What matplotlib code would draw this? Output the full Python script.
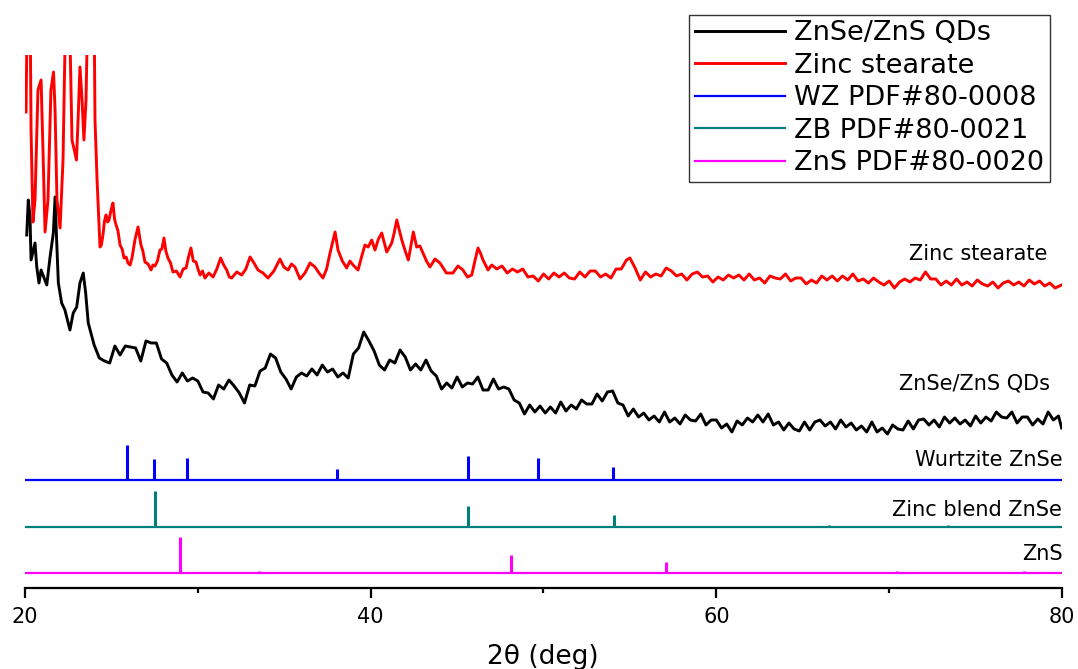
import matplotlib
matplotlib.use("Agg")
import matplotlib.pyplot as plt
from matplotlib.ticker import FixedLocator

# ---------------- data ----------------
# Zinc stearate XRD pattern (2theta in deg, intensity a.u.)
stearate_2theta = [20.06, 20.14, 20.29, 20.35, 20.46, 20.58, 20.75, 20.93, 21.04, 21.16,
                   21.33, 21.50, 21.65, 21.74, 21.85, 22.03, 22.20, 22.37, 22.55, 22.72,
                   22.98, 23.07, 23.18, 23.30, 23.41, 23.53, 23.65, 23.99, 24.05, 24.17,
                   24.34, 24.42, 24.51, 24.60, 24.69, 24.78, 24.86, 24.98, 25.09, 25.18,
                   25.27, 25.38, 25.50, 25.62, 25.73, 25.85, 25.96, 26.08, 26.19, 26.36,
                   26.54, 26.71, 26.82, 26.94, 27.12, 27.29, 27.40, 27.52, 27.66, 27.81,
                   27.92, 28.04, 28.15, 28.27, 28.42, 28.56, 28.76, 28.97, 29.15, 29.32,
                   29.46, 29.60, 29.74, 29.89, 30.01, 30.13, 30.27, 30.41, 30.64, 30.88,
                   31.10, 31.32, 31.50, 31.67, 31.82, 31.96, 32.25, 32.54, 32.78, 33.02,
                   33.25, 33.48, 33.77, 34.06, 34.40, 34.75, 34.98, 35.22, 35.42, 35.62,
                   35.91, 36.20, 36.49, 36.78, 37.01, 37.24, 37.45, 37.65, 37.94, 38.11,
                   38.36, 38.61, 38.80, 38.98, 39.27, 39.47, 39.67, 39.86, 40.06, 40.25,
                   40.45, 40.64, 40.93, 41.22, 41.36, 41.51, 41.80, 42.00, 42.18, 42.47,
                   42.66, 42.85, 43.03, 43.23, 43.43, 43.72, 44.01, 44.38, 44.76, 45.05,
                   45.34, 45.60, 45.85, 46.03, 46.21, 46.35, 46.50, 46.79,
                   47.0, 47.3, 47.6, 47.9, 48.2, 48.5, 48.8, 49.1, 49.4, 49.7,
                   50.0, 50.3, 50.6, 50.9, 51.2, 51.5, 51.8, 52.1, 52.4, 52.7,
                   53.0, 53.3, 53.6, 53.9, 54.2, 54.5, 54.8, 55.0, 55.3, 55.6,
                   55.9, 56.2, 56.5, 56.8, 57.1, 57.4, 57.7, 58.0, 58.3, 58.6,
                   58.9, 59.2, 59.5, 59.8, 60.1, 60.4, 60.7, 61.0, 61.3, 61.6,
                   61.9, 62.2, 62.5, 62.8, 63.1, 63.4, 63.7, 64.0, 64.3, 64.6,
                   64.9, 65.2, 65.5, 65.8, 66.1, 66.4, 66.7, 67.0, 67.3, 67.6,
                   67.9, 68.2, 68.5, 68.8, 69.1, 69.4, 69.7, 70.0, 70.3, 70.6,
                   70.9, 71.2, 71.5, 71.8, 72.1, 72.4, 72.7, 73.0, 73.3, 73.6,
                   73.9, 74.2, 74.5, 74.8, 75.1, 75.4, 75.7, 76.0, 76.3, 76.6,
                   76.9, 77.2, 77.5, 77.8, 78.1, 78.4, 78.7, 79.0, 79.3, 79.6,
                   79.98]
stearate_int = [479, 600, 600, 461, 369, 391, 501, 511, 441, 359,
                391, 501, 519, 481, 391, 363, 431, 600, 600, 451,
                431, 471, 524, 491, 451, 491, 600, 600, 471, 411,
                344, 346, 356, 370, 376, 369, 371, 381, 388, 372,
                366, 360, 346, 342, 333, 334, 328, 326, 333, 351,
                364, 346, 340, 329, 327, 321, 326, 325, 330, 341,
                342, 353, 340, 333, 328, 319, 320, 314, 322, 323,
                334, 343, 330, 329, 322, 316, 320, 313, 318, 314,
                322, 333, 326, 321, 314, 313, 319, 316, 322, 334,
                328, 321, 318, 313, 320, 332, 324, 321, 327, 324,
                312, 318, 328, 324, 318, 313, 322, 338, 359, 341,
                330, 323, 330, 326, 321, 334, 346, 344, 351, 341,
                352, 358, 339, 348, 358, 371, 351, 340, 331, 359,
                344, 345, 338, 330, 324, 332, 328, 318, 318, 325,
                321, 314, 316, 330, 343, 338, 331, 321,
                326, 322, 325, 318, 322, 319, 322, 314, 315, 310,
                317, 312, 318, 314, 318, 313, 312, 319, 314, 320,
                320, 314, 317, 313, 322, 322, 331, 333, 323, 311,
                319, 314, 317, 315, 323, 320, 315, 317, 311, 317,
                319, 314, 315, 309, 314, 311, 316, 313, 316, 311,
                317, 311, 313, 308, 315, 313, 312, 317, 310, 313,
                313, 307, 311, 308, 315, 311, 315, 310, 315, 311,
                317, 310, 312, 308, 313, 309, 306, 310, 303, 309,
                312, 309, 313, 311, 319, 312, 312, 306, 310, 306,
                312, 306, 309, 305, 311, 307, 305, 309, 303, 308,
                310, 306, 309, 305, 311, 307, 310, 305, 308, 303,
                306]

# ZnSe/ZnS QDs XRD pattern
qd_2theta = [20.10, 20.19, 20.29, 20.35, 20.58, 20.68, 20.81, 20.93, 21.26, 21.45,
             21.64, 21.74, 21.83, 21.93, 22.12, 22.31, 22.60, 22.79, 22.99, 23.18,
             23.37, 23.51, 23.66,
             24.0, 24.3, 24.6, 24.9, 25.2, 25.5, 25.8, 26.1, 26.4, 26.7,
             27.0, 27.3, 27.6, 27.9, 28.2, 28.5, 28.8, 29.1, 29.4, 29.7,
             30.0, 30.3, 30.6, 30.9, 31.2, 31.5, 31.8, 32.1, 32.4, 32.7,
             33.0, 33.3, 33.6, 33.9, 34.2, 34.5, 34.8, 35.1, 35.4, 35.7,
             36.0, 36.3, 36.6, 36.9, 37.2, 37.5, 37.8, 38.1, 38.4, 38.7,
             39.0, 39.3, 39.6, 39.9, 40.2, 40.5, 40.8, 41.1, 41.4, 41.7,
             42.0, 42.3, 42.6, 42.9, 43.2, 43.5, 43.8, 44.1, 44.4, 44.7,
             45.0, 45.3, 45.6, 45.9, 46.2, 46.5, 46.8, 47.1, 47.4, 47.7,
             48.0, 48.3, 48.6, 48.9, 49.2, 49.5, 49.8, 50.1, 50.4, 50.7,
             51.0, 51.3, 51.6, 51.9, 52.2, 52.5, 52.8, 53.1, 53.4, 53.7,
             54.0, 54.3, 54.6, 54.9, 55.2, 55.5, 55.8, 56.1, 56.4, 56.7,
             57.0, 57.3, 57.6, 57.9, 58.2, 58.5, 58.8, 59.1, 59.4, 59.7,
             60.0, 60.3, 60.6, 60.9, 61.2, 61.5, 61.8, 62.1, 62.4, 62.7,
             63.0, 63.3, 63.6, 63.9, 64.2, 64.5, 64.8, 65.1, 65.4, 65.7,
             66.0, 66.3, 66.6, 66.9, 67.2, 67.5, 67.8, 68.1, 68.4, 68.7,
             69.0, 69.3, 69.6, 69.9, 70.2, 70.5, 70.8, 71.1, 71.4, 71.7,
             72.0, 72.3, 72.6, 72.9, 73.2, 73.5, 73.8, 74.1, 74.4, 74.7,
             75.0, 75.3, 75.6, 75.9, 76.2, 76.5, 76.8, 77.1, 77.4, 77.7,
             78.0, 78.3, 78.6, 78.9, 79.2, 79.5, 79.8, 79.98]
qd_int = [356, 391, 374, 331, 348, 324, 308, 321, 306, 334,
          358, 394, 351, 308, 288, 281, 261, 278, 284, 308,
          318, 298, 268,
          246, 233, 230, 228, 245, 236, 245, 244, 243, 230,
          250, 248, 248, 232, 228, 216, 209, 218, 210, 213,
          210, 199, 198, 192, 206, 202, 211, 205, 198, 188,
          206, 205, 220, 223, 237, 233, 219, 212, 202, 214,
          218, 215, 222, 216, 226, 219, 222, 214, 218, 213,
          237, 243, 259, 250, 240, 226, 221, 231, 228, 241,
          234, 221, 227, 221, 231, 220, 215, 202, 208, 203,
          214, 204, 208, 207, 214, 201, 201, 212, 202, 204,
          202, 191, 188, 177, 186, 179, 185, 178, 184, 178,
          189, 180, 186, 182, 191, 187, 187, 197, 190, 199,
          200, 188, 186, 175, 182, 174, 178, 171, 175, 169,
          179, 169, 173, 167, 176, 171, 170, 177, 166, 171,
          171, 163, 167, 159, 170, 166, 173, 169, 176, 169,
          177, 166, 169, 161, 168, 162, 160, 169, 161, 169,
          171, 165, 169, 162, 171, 164, 168, 161, 165, 159,
          169, 159, 163, 157, 166, 162, 161, 170, 162, 171,
          172, 166, 171, 164, 174, 168, 173, 167, 171, 165,
          175, 168, 174, 170, 179, 174, 173, 179, 168, 174,
          174, 166, 172, 167, 179, 171, 175, 163]

# Reference patterns: stick positions (deg), stick heights (a.u.), baselines
wz_pos = [25.88, 27.45, 29.39, 38.07, 45.65, 49.68, 54.04]
wz_h = [35, 21, 22, 11, 24, 22, 13]
wz_base = 111

zb_pos = [27.50, 45.65, 54.10, 66.52, 73.42]
zb_h = [36, 21, 12, 2, 2]
zb_base = 64

zns_pos = [28.95, 33.52, 48.12, 57.07, 70.44, 77.82]
zns_h = [36, 2, 18, 11, 2, 2]
zns_base = 18

legend_labels = ["ZnSe/ZnS QDs", "Zinc stearate", "WZ PDF#80-0008",
                 "ZB PDF#80-0021", "ZnS PDF#80-0020"]
curve_labels = ["Zinc stearate", "ZnSe/ZnS QDs", "Wurtzite ZnSe",
                "Zinc blend ZnSe", "ZnS"]
major_ticks = [20, 40, 60, 80]
minor_ticks = [30, 50, 70]

# ---------------- plot ----------------
plt.rcParams['font.family'] = ['DejaVu Sans']
W, H = 1078, 669
fig = plt.figure(figsize=(W / 100, H / 100), dpi=100)
ax = fig.add_axes([25 / W, (H - 588) / H, 1037 / W, 533 / H])
ax.set_xlim(20, 80)
ax.set_ylim(3, 536)

c_blue = '#0000ff'
c_teal = '#007f7f'
c_mag = '#ff00ff'

l_qd, = ax.plot(qd_2theta, qd_int, color='black', lw=2.1)
l_st, = ax.plot(stearate_2theta, stearate_int, color='#ff0000', lw=2.1)

for pos, h, base, col in [(wz_pos, wz_h, wz_base, c_blue),
                          (zb_pos, zb_h, zb_base, c_teal),
                          (zns_pos, zns_h, zns_base, c_mag)]:
    ax.hlines(base, 20, 80, color=col, lw=1.6)
    ax.vlines(pos, base, [base + v for v in h], color=col, lw=2.2)

l_wz, = ax.plot([], [], color=c_blue, lw=1.6)
l_zb, = ax.plot([], [], color=c_teal, lw=1.6)
l_zn, = ax.plot([], [], color=c_mag, lw=1.6)

leg = ax.legend([l_qd, l_st, l_wz, l_zb, l_zn], legend_labels,
                loc='upper right', bbox_to_anchor=(1050 / W, 1 - 14.5 / H),
                bbox_transform=fig.transFigure, borderaxespad=0,
                fontsize=19.5, frameon=True, fancybox=False,
                handlelength=3.3, handletextpad=0.35, labelspacing=0.24,
                borderpad=0.22)
leg.get_frame().set_edgecolor('black')
leg.get_frame().set_linewidth(1.0)

# curve labels (baseline positions)
ax.text(79.13, 331, curve_labels[0], ha='right', va='baseline', fontsize=15)
ax.text(79.31, 201, curve_labels[1], ha='right', va='baseline', fontsize=15)
ax.text(80.02, 124.5, curve_labels[2], ha='right', va='baseline', fontsize=15)
ax.text(80.02, 74.5, curve_labels[3], ha='right', va='baseline', fontsize=15)
ax.text(80.02, 30.5, curve_labels[4], ha='right', va='baseline', fontsize=15)

for s in ['left', 'top', 'right']:
    ax.spines[s].set_visible(False)
ax.spines['bottom'].set_linewidth(1.6)
ax.set_yticks([])
ax.xaxis.set_major_locator(FixedLocator(major_ticks))
ax.xaxis.set_minor_locator(FixedLocator(minor_ticks))
ax.tick_params(axis='x', which='major', direction='out', length=7, width=1.6,
               labelsize=15, pad=7)
ax.tick_params(axis='x', which='minor', direction='out', length=3.5, width=1.6)

fig.text(543 / W, 1 - 657 / H, "2θ (deg)", ha='center', va='center', fontsize=19)

fig.savefig('out.png', dpi=100)
